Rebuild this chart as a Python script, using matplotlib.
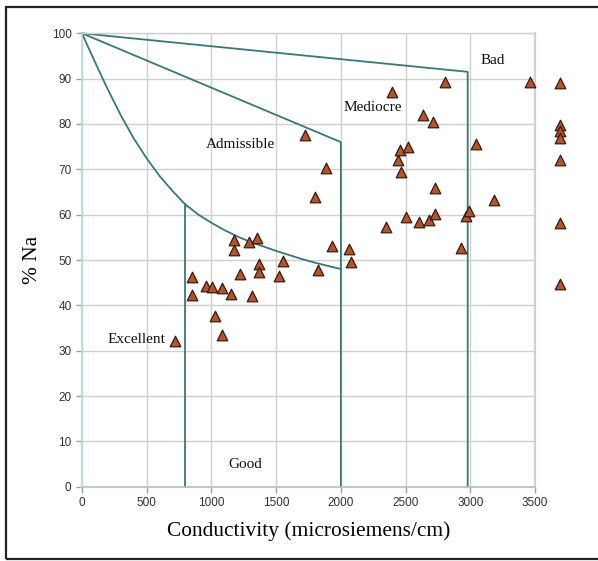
import matplotlib
matplotlib.use("Agg")
import matplotlib.pyplot as plt
from matplotlib.patches import Rectangle

# ---- data ----
cond = [716, 852, 852, 960, 1006, 1026, 1078, 1080, 1152, 1173, 1178, 1222, 1288,
        1314, 1350, 1371, 1371, 1525, 1550, 1720, 1797, 1827, 1889, 1932, 2060, 2079,
        2351, 2392, 2443, 2456, 2461, 2503, 2520, 2603, 2636, 2680, 2710, 2728, 2731,
        2808, 2931, 2967, 2993, 3044, 3185, 3463,
        3690, 3690, 3690, 3690, 3690, 3690, 3690]
na = [32.2, 46.2, 42.3, 44.2, 44.0, 37.6, 43.8, 33.4, 42.5, 52.3, 54.5, 47.0, 54.0,
      42.1, 54.9, 49.2, 47.3, 46.4, 49.8, 77.6, 64.0, 47.9, 70.4, 53.0, 52.4, 49.5,
      57.3, 87.0, 72.1, 74.3, 69.4, 59.5, 75.0, 58.4, 82.0, 58.9, 80.4, 60.1, 65.9,
      89.3, 52.6, 59.6, 60.9, 75.6, 63.3, 89.2,
      89.0, 79.8, 78.5, 76.9, 72.1, 58.2, 44.6]

# boundary lines
bad_x = [0, 2980, 2980]
bad_y = [100, 91.5, 0]
med_x = [0, 2000, 2000]
med_y = [100, 76, 0]
good_curve_x = [0, 50, 100, 150, 200, 300, 400, 500, 600, 700, 796, 900, 1000,
                1100, 1200, 1300, 1400, 1500, 1600, 1700, 1800, 1900, 2000]
good_curve_y = [100, 96.8, 93.7, 90.6, 87.6, 81.9, 76.8, 72.4, 68.5, 65.2, 62.3,
                60.0, 58.2, 56.6, 55.2, 54.0, 53.0, 52.0, 51.1, 50.2, 49.4, 48.7, 48.0]
good_vert_x = [796, 796]
good_vert_y = [62.3, 0]

region_labels = ["Bad", "Mediocre", "Admissible", "Excellent", "Good"]
region_x = [3176, 2249, 1221, 417, 1260]
region_y = [93.9, 83.6, 75.4, 32.4, 5.0]

xticks = [0, 500, 1000, 1500, 2000, 2500, 3000, 3500]
yticks = [0, 10, 20, 30, 40, 50, 60, 70, 80, 90, 100]

# ---- figure ----
fig = plt.figure(figsize=(5.98, 5.61), dpi=100)
ax = fig.add_axes([82/598, (561-486.7)/561, (535-82)/598, (486.7-33.3)/561])

ax.set_xlim(0, 3500)
ax.set_ylim(0, 100)
ax.set_xticks(xticks)
ax.set_yticks(yticks)
ax.grid(True, color="#cfcfcf", linewidth=1.0)
ax.set_axisbelow(True)

for side in ["top", "right"]:
    ax.spines[side].set_color("#d0d0d0")
    ax.spines[side].set_linewidth(1.0)
ax.spines["right"].set_linewidth(1.6)
ax.spines["left"].set_color("#b5dcdc")
ax.spines["left"].set_linewidth(1.2)
ax.spines["bottom"].set_color("#a9c6c2")
ax.spines["bottom"].set_linewidth(1.2)

ax.tick_params(axis="both", direction="out", length=4, width=1, color="#a0a0a0",
               labelsize=8.5, labelcolor="#333333")
for lab in ax.get_xticklabels() + ax.get_yticklabels():
    lab.set_family("Liberation Sans")

line_kw = dict(color="#3a7878", linewidth=1.3, clip_on=False)
ax.plot(bad_x, bad_y, **line_kw)
ax.plot(med_x, med_y, **line_kw)
ax.plot(good_curve_x, good_curve_y, **line_kw)
ax.plot(good_vert_x, good_vert_y, **line_kw)

ax.scatter(cond, na, marker="^", s=58, facecolor="#b5542b", edgecolor="#3a1a0e",
           linewidth=0.9, zorder=5, clip_on=False)

for t, x, y in zip(region_labels, region_x, region_y):
    ax.text(x, y, t, ha="center", va="center", fontsize=11,
            family="Liberation Serif", color="#111111")

ax.set_xlabel("Conductivity (microsiemens/cm)", family="Liberation Serif",
              fontsize=15.4, labelpad=9)
ax.set_ylabel("% Na", family="Liberation Serif", fontsize=15.4, labelpad=7)

fig.patches.append(Rectangle((6, 2), 620, 552, transform=None, fill=False,
                             edgecolor="#222222", linewidth=1.6))

fig.savefig("out.png", dpi=100)
